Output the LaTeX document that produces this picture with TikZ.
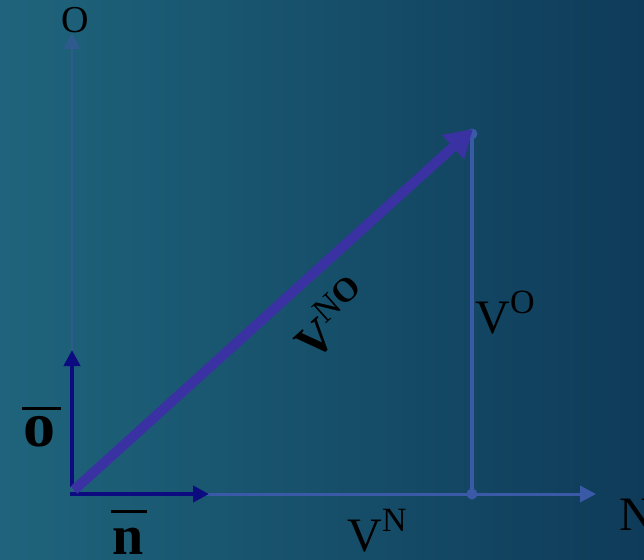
\documentclass[tikz,border=0pt]{standalone}
\usepackage{fontspec}
\setmainfont{Liberation Serif}
\usetikzlibrary{arrows.meta}
\definecolor{bgL}{HTML}{1F647C}
\definecolor{bgR}{HTML}{0E3B59}
\definecolor{vecNO}{HTML}{3A32A2}
\definecolor{unitv}{HTML}{0C0C80}
\definecolor{axisN}{HTML}{3A5AA8}
\definecolor{axisO}{HTML}{2E5A8E}
\newcommand{\bigf}{\fontsize{48}{50}\selectfont}
\newcommand{\supf}{\fontsize{34}{36}\selectfont}
\begin{document}
\begin{tikzpicture}[x=1pt,y=-1pt,
  lbl/.style={inner sep=0pt, text=black},
  unitarrow/.style={draw=unitv, line width=4pt, -{Triangle[length=16pt,width=16pt]}},
  axisline/.style={line width=3pt, -{Triangle[length=16pt,width=16pt]}},
  bar/.style={draw=black, line width=3pt},
  dotmark/.style={circle, fill=axisN, inner sep=0pt, minimum size=11pt}]
\shade[left color=bgL, right color=bgR] (0,0) rectangle (644,559);
\useasboundingbox (0,0) rectangle (644,559);
\coordinate (otip) at (72,33);
\coordinate (ntip) at (596,494);
\node[dotmark] (top) at (472,134) {};
\node[dotmark] (bot) at (472,494) {};
% axes
\draw[axisline, draw=axisO, line width=2.8pt] (72,493) -- (otip);
\draw[axisline, draw=axisN] (72,494) -- (ntip);
\draw[draw=axisN, line width=3.2pt] (top.center) -- (bot.center);
% unit vectors
\coordinate (obar) at (72,350);
\coordinate (nbar) at (209,494);
\draw[unitarrow] (72,487) -- (obar);
\draw[unitarrow] (70,494) -- (nbar);
% resultant
\coordinate (vtip) at (473,129);
\draw[draw=vecNO, line width=10pt, -{Triangle[length=27pt,width=31pt]}] (74,490) -- (vtip);
% labels
\node[lbl] (lO) at (75,20) {\fontsize{38}{40}\selectfont O};
\node[lbl] (lN) at (637,515) {\bigf N};
\node[lbl, rotate=42] (lVNO) at (331,318) {\bigf\bfseries V\raisebox{0.42em}{\supf\mdseries N\bfseries O}};
\node[lbl] (lVO) at (505,313) {\bigf V\raisebox{0.42em}{\supf O}};
\node[lbl] (lVN) at (377,531) {\bigf V\raisebox{0.42em}{\supf N}};
\node[lbl] (lo) at (39.5,432) {\fontsize{64}{66}\selectfont\bfseries o};
\draw[bar] ([xshift=-17.5pt,yshift=8pt]lo.north) -- ([xshift=21.5pt,yshift=8pt]lo.north);
\node[lbl] (ln) at (128.5,541) {\fontsize{56}{58}\selectfont\bfseries n};
\draw[bar] ([xshift=-17.5pt,yshift=16pt]ln.north) -- ([xshift=18.5pt,yshift=16pt]ln.north);
\end{tikzpicture}
\end{document}
